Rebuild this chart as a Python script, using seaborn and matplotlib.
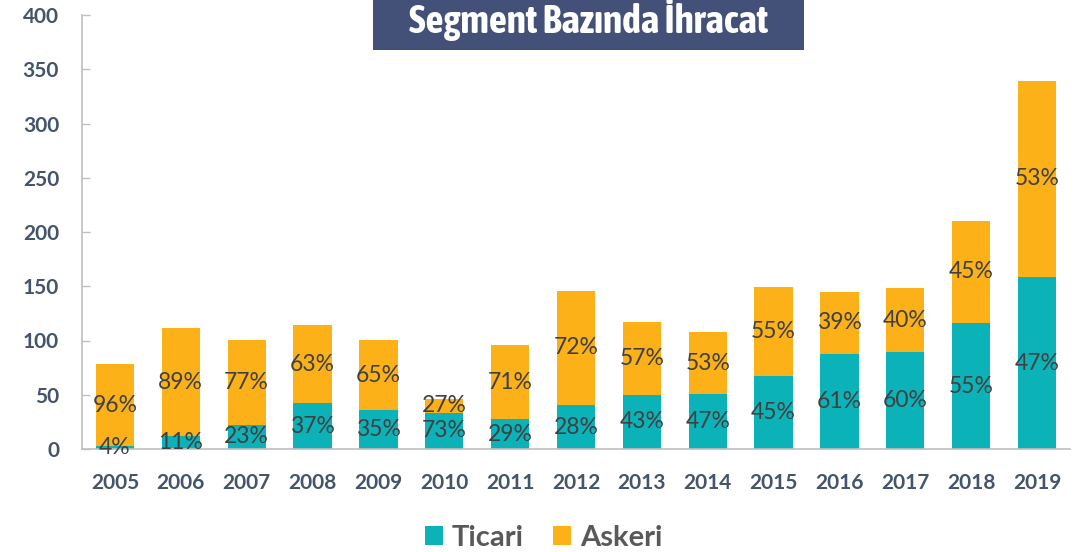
import matplotlib
matplotlib.use("Agg")
import matplotlib.pyplot as plt
from matplotlib.patches import Rectangle, Patch
from matplotlib import font_manager
import seaborn as sns
import pandas as pd

# ---- data ----
years = ["2005", "2006", "2007", "2008", "2009", "2010", "2011", "2012",
         "2013", "2014", "2015", "2016", "2017", "2018", "2019"]
ticari = [3, 12, 22.5, 42, 35.5, 33.5, 27.5, 40.5, 50, 50.5, 67, 88, 89, 116, 158.5]
askeri = [75, 99.5, 78, 72.5, 65, 13, 68.5, 105.5, 67, 57.5, 82, 56.5, 59.5, 94.5, 181]
ticari_pct = ["4%", "11%", "23%", "37%", "35%", "73%", "29%", "28%", "43%", "47%",
              "45%", "61%", "60%", "55%", "47%"]
askeri_pct = ["96%", "89%", "77%", "63%", "65%", "27%", "71%", "72%", "57%", "53%",
              "55%", "39%", "40%", "45%", "53%"]
series_names = ["Ticari", "Askeri"]
title_text = "Segment Bazında İhracat"
yticks = [0, 50, 100, 150, 200, 250, 300, 350, 400]

TEAL = "#0BB2B8"
ORANGE = "#FCB118"
TICK_COLOR = "#44546A"
PCT_COLOR = "#404040"
LEG_COLOR = "#595959"
BOX_COLOR = "#435179"
AXIS_COLOR = "#BFBFBF"

sns.set_theme(style="white")
plt.rcParams["font.family"] = ["Lato", "DejaVu Sans"]

# pick a narrow bold family for the title if one is installed
narrow = None
for f in font_manager.fontManager.ttflist:
    n = f.name.lower()
    if ("narrow" in n or "condensed" in n) and f.weight in (600, 700, 800, "bold"):
        narrow = f.fname
        break
if narrow is None:
    for f in font_manager.fontManager.ttflist:
        n = f.name.lower()
        if "narrow" in n or "condensed" in n:
            narrow = f.fname
            break

df = pd.DataFrame({"year": years, "ticari": ticari, "askeri": askeri})

fig = plt.figure(figsize=(10.86, 5.52), dpi=100)
ax = fig.add_axes([82 / 1086, 103 / 552, 988 / 1086, 434 / 552])

sns.barplot(data=df, x="year", y="ticari", color=TEAL, saturation=1,
            width=0.58, ax=ax, linewidth=0)
sns.barplot(data=df, x="year", y="askeri", color=ORANGE, saturation=1,
            width=0.58, ax=ax, linewidth=0, bottom=df["ticari"])

ax.bar_label(ax.containers[0], labels=ticari_pct, label_type="center",
             fontsize=16.5, color=PCT_COLOR)
ax.bar_label(ax.containers[1], labels=askeri_pct, label_type="center",
             fontsize=16.5, color=PCT_COLOR)

ax.set_xlim(-0.5, len(years) - 0.5)
ax.set_ylim(0, 400)
ax.set_yticks(yticks)
ax.set_xlabel("")
ax.set_ylabel("")
for s in ["top", "right"]:
    ax.spines[s].set_visible(False)
for s in ["left", "bottom"]:
    ax.spines[s].set_color(AXIS_COLOR)
    ax.spines[s].set_linewidth(1.2)
ax.tick_params(axis="y", direction="in", length=5.5, width=1, color=AXIS_COLOR,
               pad=16.5, labelsize=15, labelcolor=TICK_COLOR, left=True)
ax.tick_params(axis="x", length=0, pad=17, labelsize=15, labelcolor=TICK_COLOR)
for lab in ax.get_xticklabels() + ax.get_yticklabels():
    lab.set_fontweight("bold")

# title box
fig.patches.append(Rectangle((373 / 1086, 1 - 49.5 / 552), 431 / 1086, 49.5 / 552,
                             transform=fig.transFigure, facecolor=BOX_COLOR,
                             edgecolor="none", zorder=0))
if narrow is not None:
    tprops = dict(fontproperties=font_manager.FontProperties(fname=narrow, size=27))
else:
    tprops = dict(family=["Liberation Sans", "DejaVu Sans"], fontweight="bold", fontsize=27)
title = fig.text(589 / 1086, 1 - 33 / 552, title_text, ha="center", va="baseline",
                 color="white", **tprops)
# fit the title width to the reference (about 360 px)
renderer = fig.canvas.get_renderer()
w = title.get_window_extent(renderer).width
new_size = title.get_fontsize() * 360 / w
title.set_fontsize(min(new_size, 31))

handles = [Patch(facecolor=TEAL, edgecolor="none"), Patch(facecolor=ORANGE, edgecolor="none")]
leg = fig.legend(handles, series_names, loc="center",
                 bbox_to_anchor=(543.5 / 1086, 1 - 538 / 552), ncol=2, frameon=False,
                 prop={"size": 21, "weight": "bold"}, labelcolor=LEG_COLOR,
                 handlelength=0.62, handleheight=0.62, handletextpad=0.3,
                 columnspacing=1.0, borderpad=0)

fig.savefig("out.png", dpi=100)
